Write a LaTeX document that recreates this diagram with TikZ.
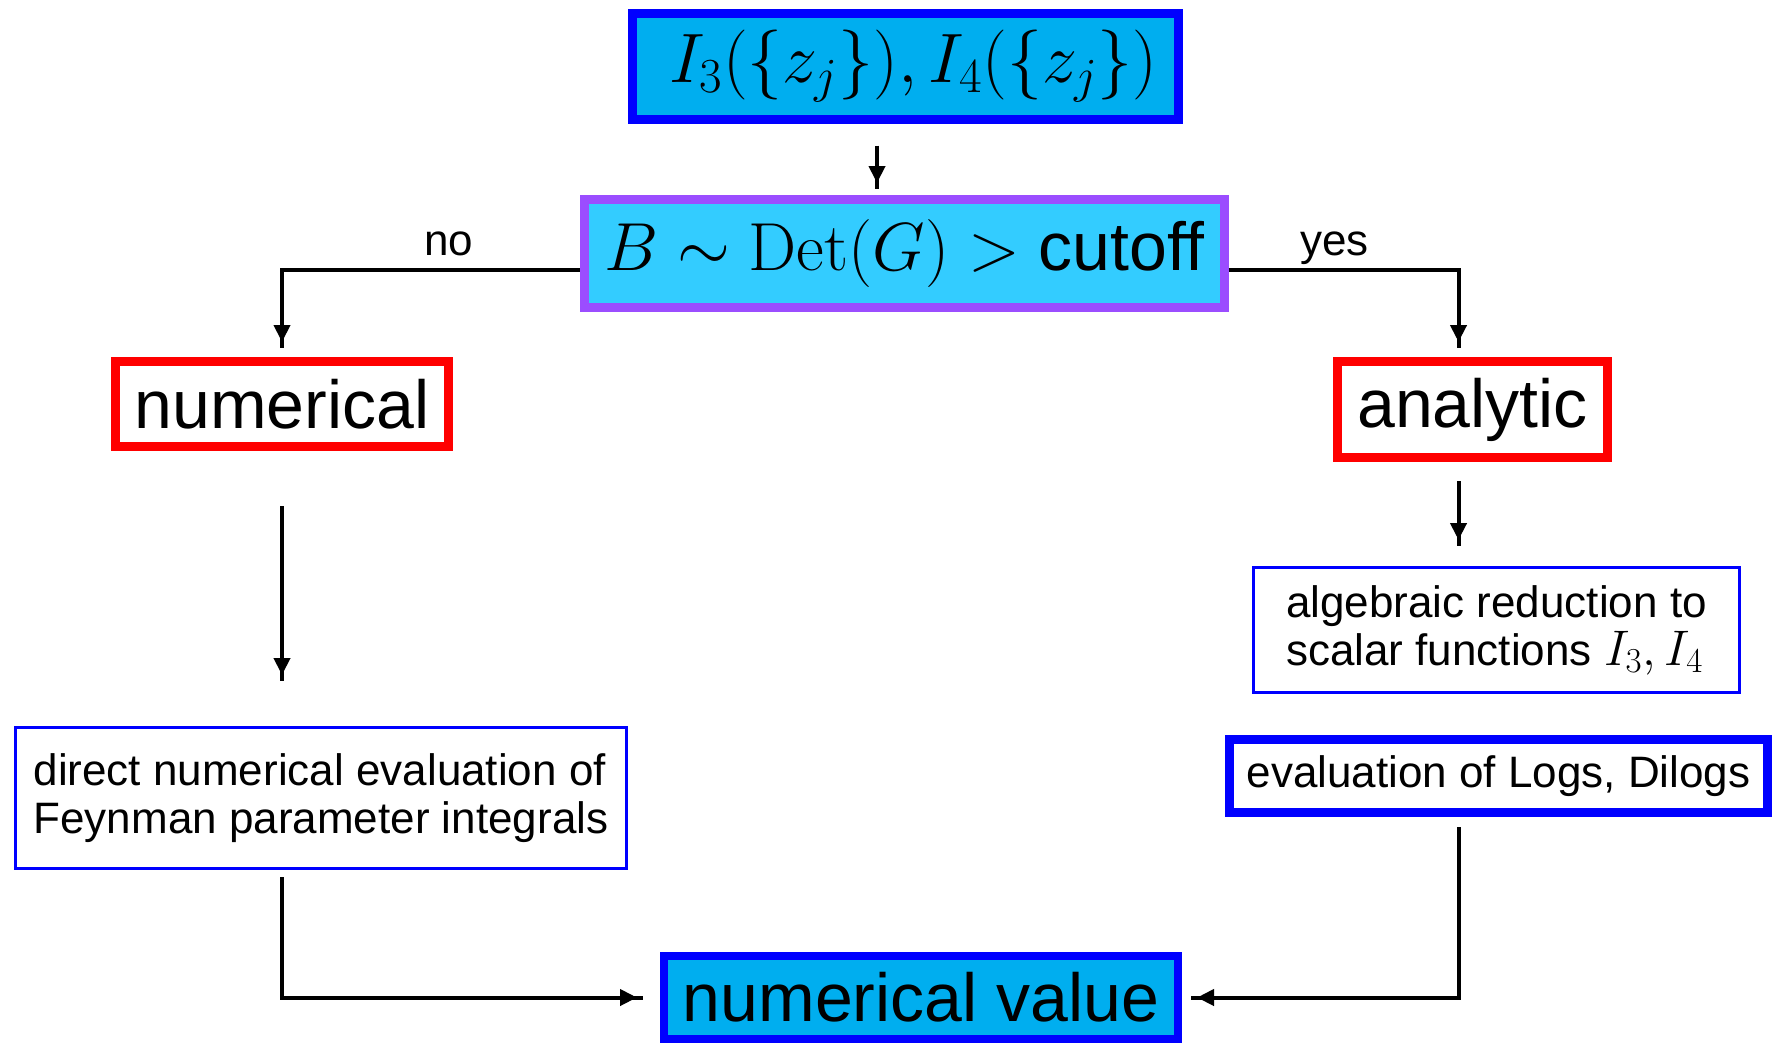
\RequirePackage{fix-cm}
\documentclass[tikz,border=0pt]{standalone}
\usepackage[no-math]{fontspec}
\setmainfont{Liberation Sans}
\usepackage{tikz}
\usetikzlibrary{arrows.meta,positioning,calc}
\definecolor{pcyan}{RGB}{0,174,239}
\definecolor{lcyan}{RGB}{51,204,255}
\definecolor{lilac}{RGB}{155,77,255}
\tikzset{
  bigbox/.style={draw=#1,line width=4.5pt,inner sep=0pt,font=\fontsize{34}{40}\selectfont},
  bigbox/.default={blue},
  txtbox/.style={draw=blue,line width=1.5pt,inner sep=0pt,align=left,font=\fontsize{22}{24}\selectfont},
  arr/.style={-{Triangle[length=8.5pt,width=8pt,sep=0pt]Rectangle[length=3pt,width=2pt,sep=0pt]},line width=2pt},
  lbl/.style={font=\fontsize{22}{24}\selectfont,anchor=base,yshift=7pt},
}

\begin{document}
\begin{tikzpicture}[x=0.5pt,y=-0.5pt]
 \useasboundingbox (0,0) rectangle (1775,1045);
 % boxes
 \node[bigbox,fill=pcyan,minimum width=273pt,minimum height=53pt,font=\fontsize{35}{40}\selectfont] (ints) at (905,66) {\hspace*{8.5pt}$I_3(\{z_j\}),I_4(\{z_j\})$};
 \node[bigbox=lilac,fill=lcyan,minimum width=320pt,minimum height=54pt] (cut) at (904,253.5) {$B\sim\mathrm{Det}(G)>$ cutoff};
 \node[bigbox=red,minimum width=166.5pt,minimum height=42.5pt] (num) at (282,404) {numerical};
 \node[bigbox=red,minimum width=135pt,minimum height=48pt] (ana) at (1472.5,409.5) {analytic};
 \node[txtbox,minimum width=305.5pt,minimum height=70.5pt] (direct) at (321,798) {direct numerical evaluation of\\Feynman parameter integrals};
 \node[txtbox,minimum width=243pt,minimum height=62.5pt] (alg) at (1496.5,630) {algebraic reduction to\\scalar functions {\fontsize{25}{24}\selectfont$I_3,I_4$}};
 \node[bigbox,minimum width=269pt,minimum height=36.5pt,font=\fontsize{22}{24}\selectfont] (logs) at (1498.5,776) {evaluation of Logs, Dilogs};
 \node[bigbox,fill=pcyan,line width=4pt,minimum width=257pt,minimum height=41.5pt] (val) at (921,997.5) {numerical value};
 \coordinate (rcol) at ([xshift=-7pt]ana.north);
 % connectors
 \draw[arr,shorten <=11pt,shorten >=3pt] ([xshift=-14pt]ints.south) -- ([xshift=-14pt]ints.south |- cut.north);
 \draw[arr,shorten >=4.5pt] ([yshift=-8pt]cut.west) -| (num.north) node[lbl,pos=0.22]{no};
 \draw[arr,shorten >=4.5pt] ([yshift=-8pt]cut.east) -| (rcol) node[lbl,pos=0.23]{yes};
 \draw[arr,shorten <=27.5pt,shorten >=22.5pt] (num.south) -- (num.south |- direct.north);
 \draw[arr,shorten <=9.5pt,shorten >=10pt] (rcol |- ana.south) -- (rcol |- alg.north);
 \draw[arr,shorten <=3.5pt,shorten >=8.5pt] (num.south |- direct.south) |- (val.west);
 \draw[arr,shorten <=5pt,shorten >=4.5pt] (rcol |- logs.south) |- (val.east);
\end{tikzpicture}
\end{document}
